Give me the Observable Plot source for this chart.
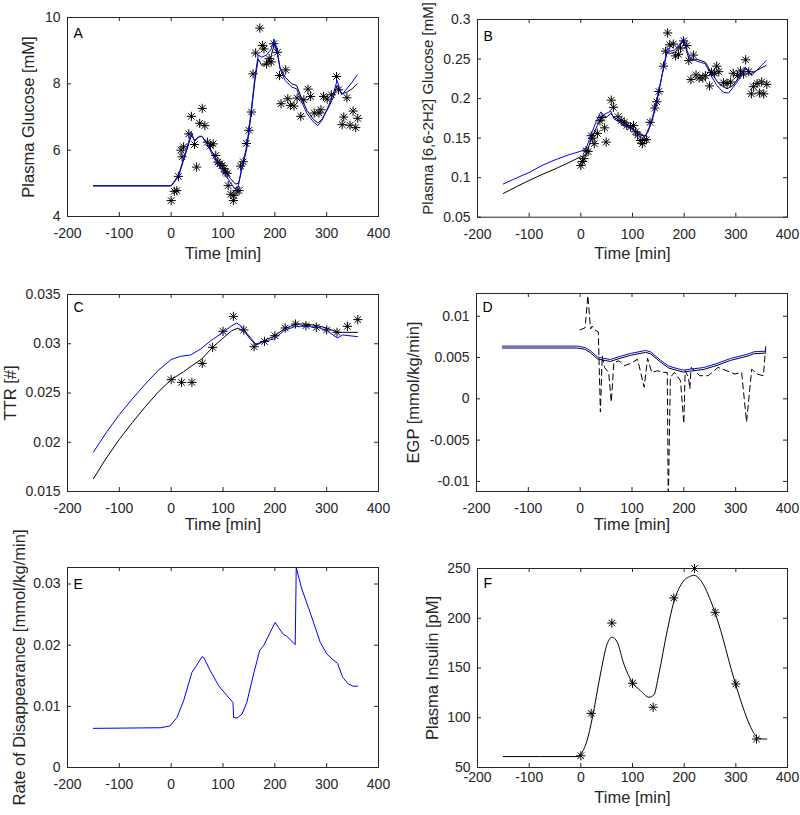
<!DOCTYPE html>
<html><head><meta charset="utf-8">
<script src="https://cdn.jsdelivr.net/npm/d3@7"></script>
<script src="https://cdn.jsdelivr.net/npm/@observablehq/plot@0.6"></script>
<style>
body{margin:0;background:#fff;}
#fig{position:relative;width:800px;height:815px;font-family:"Liberation Sans",Arial,Helvetica,sans-serif;}
</style></head><body><div id="fig"></div>
<script>
// ---------- shared ticks ----------
const xTicks = [-200, -100, 0, 100, 200, 300, 400];

// ---------- Panel A: Plasma glucose ----------
const A_obs_t = [0, 6, 11, 14, 19, 21, 24, 34, 39, 45, 49, 55, 60, 65, 70, 76, 81, 86, 90, 94, 98, 102, 105, 108, 110, 115, 120, 121, 127, 131, 134, 139, 145, 150, 155, 158, 163, 171, 176, 179, 184, 189, 193, 198, 205, 209, 212, 221, 225, 230, 237, 243, 250, 256, 264, 269, 276, 285, 289, 294, 301, 309, 319, 323, 330, 333, 339, 345, 351, 356, 360];
const A_obs_v = [4.48, 4.76, 4.78, 5.21, 6.0, 5.8, 6.1, 6.49, 7.02, 6.17, 5.49, 6.81, 7.26, 6.74, 6.24, 6.14, 6.19, 5.84, 5.64, 5.59, 5.54, 5.44, 5.34, 5.3, 4.93, 4.67, 4.48, 4.63, 4.78, 4.78, 5.52, 5.65, 6.2, 6.6, 7.15, 8.3, 8.93, 9.68, 9.16, 9.05, 8.6, 8.76, 8.66, 9.21, 8.95, 8.25, 7.4, 8.42, 7.55, 7.35, 7.33, 7.57, 7.02, 7.52, 7.84, 7.62, 7.12, 7.12, 7.22, 7.62, 7.54, 7.67, 8.22, 7.82, 6.77, 7.0, 7.58, 6.75, 7.18, 6.68, 6.96];
const A_blue_t = [-150, 0, 14, 27, 39, 45, 54, 59, 69, 85, 101, 114, 123, 129, 136, 146, 154, 162, 168, 175, 184, 193, 199, 205, 210, 220, 233, 242, 252, 262, 275, 283, 291, 304, 313, 320, 329, 339, 349, 359];
const A_blue_v = [4.93, 4.93, 5.24, 5.9, 6.54, 6.26, 6.42, 6.42, 6.19, 5.69, 5.34, 5.03, 4.83, 4.88, 5.44, 6.14, 7.15, 8.25, 8.87, 8.8, 8.87, 9.05, 9.34, 8.95, 8.45, 8.1, 7.9, 7.85, 7.45, 7.1, 6.84, 6.74, 6.9, 7.35, 7.7, 8.1, 7.67, 7.85, 8.05, 8.27];
const A_black_t = [-150, 0, 14, 27, 39, 45, 54, 59, 69, 85, 101, 114, 124, 130, 136, 146, 154, 162, 168, 175, 184, 193, 199, 205, 210, 220, 233, 242, 252, 262, 275, 283, 291, 304, 313, 320, 329, 339, 349, 359];
const A_black_v = [4.92, 4.92, 5.2, 5.85, 6.45, 6.3, 6.4, 6.42, 6.22, 5.78, 5.45, 5.15, 4.98, 5.0, 5.4, 6.05, 7.05, 8.15, 8.75, 8.55, 8.6, 8.85, 9.2, 8.9, 8.5, 8.2, 8.0, 7.95, 7.55, 7.2, 6.92, 6.82, 6.93, 7.3, 7.6, 7.95, 7.7, 7.75, 7.85, 8.0];
const A_yTicks = [4, 6, 8, 10];

// ---------- Panel B: labelled glucose ----------
const B_obs_t = [0, 3, 6, 10, 14, 20, 23, 26, 32, 37, 41, 46, 49, 59, 63, 72, 78, 84, 89, 96, 102, 106, 110, 115, 119, 123, 127, 134, 143, 147, 151, 160, 164, 168, 172, 179, 183, 189, 193, 199, 205, 209, 218, 213, 223, 229, 236, 241, 249, 253, 259, 263, 267, 276, 283, 290, 295, 303, 309, 315, 319, 325, 330, 334, 341, 346, 350, 354, 360];
const B_obs_v = [0.1154, 0.1205, 0.124, 0.134, 0.133, 0.153, 0.150, 0.143, 0.156, 0.172, 0.176, 0.163, 0.145, 0.198, 0.189, 0.177, 0.172, 0.170, 0.166, 0.164, 0.166, 0.158, 0.154, 0.147, 0.143, 0.148, 0.148, 0.170, 0.188, 0.196, 0.209, 0.241, 0.260, 0.283, 0.268, 0.269, 0.254, 0.256, 0.264, 0.273, 0.267, 0.248, 0.255, 0.224, 0.230, 0.226, 0.226, 0.229, 0.216, 0.233, 0.232, 0.241, 0.234, 0.220, 0.219, 0.221, 0.232, 0.229, 0.235, 0.231, 0.249, 0.234, 0.206, 0.215, 0.219, 0.207, 0.221, 0.206, 0.218];
const B_blue_t = [-150, -125, -100, -75, -50, -25, 0, 10, 19, 29, 38.5, 44, 51, 58, 64, 77, 93, 109, 123, 130, 138, 146, 154, 161, 167, 173, 181, 189.5, 199, 205.5, 213, 221.6, 231, 241, 250.5, 263, 276, 286, 295, 305, 311.5, 318, 324, 331, 337, 346.8, 358.5];
const B_blue_v = [0.092, 0.0995, 0.1065, 0.1155, 0.1225, 0.1285, 0.1335, 0.1365, 0.153, 0.170, 0.183, 0.1795, 0.182, 0.184, 0.1745, 0.169, 0.164, 0.1555, 0.1525, 0.1575, 0.1745, 0.1955, 0.219, 0.242, 0.263, 0.26, 0.261, 0.267, 0.2757, 0.261, 0.25, 0.248, 0.246, 0.244, 0.231, 0.2167, 0.208, 0.207, 0.2145, 0.223, 0.231, 0.24, 0.2335, 0.229, 0.2335, 0.24, 0.248];
const B_black_t = [-150, -125, -100, -75, -50, -25, 0, 10, 19, 32, 42, 50, 58, 64, 77, 93, 109, 125, 138, 146, 157.6, 167, 173, 183, 199, 209, 225, 241, 254, 267, 283, 295, 315, 321, 328, 337, 358.5];
const B_black_v = [0.080, 0.0885, 0.0965, 0.104, 0.111, 0.1185, 0.1265, 0.128, 0.147, 0.166, 0.1787, 0.1766, 0.181, 0.1766, 0.171, 0.166, 0.1576, 0.1525, 0.172, 0.193, 0.231, 0.259, 0.257, 0.259, 0.2736, 0.250, 0.2496, 0.246, 0.2314, 0.2188, 0.2124, 0.2167, 0.2357, 0.2378, 0.2314, 0.2344, 0.242];
const B_yTicks = [0.05, 0.1, 0.15, 0.2, 0.25, 0.3];

// ---------- Panel C: TTR ----------
const C_obs_t = [0, 20, 40, 60, 80, 100, 120, 140, 160, 180, 200, 220, 240, 260, 280, 300, 320, 340, 360];
const C_obs_v = [0.02635, 0.02608, 0.02608, 0.0280, 0.02963, 0.03126, 0.03278, 0.0314, 0.0297, 0.03024, 0.03082, 0.0316, 0.0320, 0.03184, 0.03167, 0.0314, 0.03116, 0.03177, 0.03245];
const C_blue_t = [-150, -125, -100, -75, -50, -25, 0, 18, 37.5, 56.7, 76, 95.5, 115, 126.5, 134, 147, 163, 169.6, 182.4, 198.5, 217.7, 240, 260, 282, 301.6, 314, 321, 330.6, 359.6];
const C_blue_v = [0.0190, 0.0210, 0.0228, 0.0244, 0.0259, 0.0273, 0.0284, 0.02872, 0.02886, 0.02946, 0.0303, 0.03099, 0.03177, 0.0321, 0.03184, 0.031, 0.02997, 0.03007, 0.03031, 0.03048, 0.03133, 0.03177, 0.03177, 0.03167, 0.03133, 0.03082, 0.03058, 0.03089, 0.03072];
const C_black_t = [-150, -125, -100, -75, -50, -25, 0, 24, 40, 59, 78.6, 98, 117, 128, 140, 152.6, 164.3, 172, 185, 198.5, 217.7, 240, 260, 282, 301.6, 321, 330.6, 359.6];
const C_black_v = [0.0163, 0.0184, 0.0203, 0.0220, 0.0236, 0.0251, 0.02635, 0.02716, 0.02777, 0.02845, 0.02957, 0.03048, 0.03133, 0.03157, 0.03133, 0.03048, 0.02987, 0.03007, 0.03048, 0.03075, 0.0315, 0.032, 0.032, 0.03184, 0.03157, 0.03116, 0.03116, 0.03116];
const C_yTicks = [0.015, 0.02, 0.025, 0.03, 0.035];

// ---------- Panel D: EGP ----------
const D_blue_t = [-150, -5, 10, 20, 33, 45, 58.5, 75, 97, 126, 135.8, 155, 171, 185, 199, 213, 238.6, 264, 290, 316, 325.6, 335, 358];
const D_blue_v = [0.00638, 0.00638, 0.0062, 0.0058, 0.00508, 0.0049, 0.00476, 0.0051, 0.00549, 0.00585, 0.00569, 0.00468, 0.00395, 0.0037, 0.00347, 0.00359, 0.00379, 0.00428, 0.00488, 0.00529, 0.00545, 0.00569, 0.00577];
const D_black_v = [0.00615, 0.00615, 0.00598, 0.00557, 0.00485, 0.00466, 0.00453, 0.00487, 0.00526, 0.00562, 0.00546, 0.00445, 0.00372, 0.00347, 0.00324, 0.00336, 0.00356, 0.00405, 0.00465, 0.00506, 0.00522, 0.00546, 0.00554];
const D_dash_t = [0, 9.6, 14.8, 20, 23, 29.5, 35, 39, 42.6, 47, 55, 60, 65, 75, 85, 98, 110.6, 123.5, 130, 138, 149.6, 159, 168, 170, 174, 182, 193.5, 200, 202.6, 209, 211.6, 214, 221, 230.6, 247, 266, 282.6, 298.6, 311.5, 321, 331, 340.6, 353.5, 358];
const D_dash_v = [0.00835, 0.0086, 0.0125, 0.00845, 0.0088, 0.0083, 0.0081, -0.0016, 0.0052, 0.0038, 0.0032, -0.0004, 0.0044, 0.0046, 0.0040, 0.0043, 0.0048, 0.0014, 0.0049, 0.0032, 0.0034, 0.0032, 0.0032, -0.0125, 0.0026, 0.0032, 0.0022, -0.003, 0.0034, 0.0026, 0.0012, 0.0038, 0.0034, 0.0028, 0.0028, 0.0038, 0.0034, 0.0030, 0.0032, -0.0028, 0.0036, 0.0030, 0.0028, 0.0063];
const D_yTicks = [-0.01, -0.005, 0, 0.005, 0.01];

// ---------- Panel E: rate of disappearance ----------
const E_t = [-150, -20, -2, 11.2, 24, 40, 46.6, 59.5, 62.7, 75.5, 91.6, 107.7, 119.3, 120.5, 127, 136.6, 146, 159, 170.6, 178.3, 191, 200.7, 207, 216.8, 222, 239.3, 241.3, 252, 268, 287.6, 300.4, 313, 321, 331, 342, 352, 359.6];
const E_v = [0.0064, 0.0065, 0.0068, 0.00818, 0.01091, 0.01555, 0.01637, 0.01811, 0.018, 0.01582, 0.01337, 0.01173, 0.01064, 0.00818, 0.00807, 0.00873, 0.01064, 0.01528, 0.0191, 0.01991, 0.0221, 0.02373, 0.02291, 0.02171, 0.02155, 0.02008, 0.0327, 0.02919, 0.02537, 0.02046, 0.01855, 0.01757, 0.01702, 0.01473, 0.01364, 0.01326, 0.01331];
const E_yTicks = [0, 0.01, 0.02, 0.03];

// ---------- Panel F: plasma insulin ----------
const F_obs_t = [0, 20, 60, 100, 140, 180, 220, 260, 300, 340];
const F_obs_v = [61.8, 104.4, 195.2, 134.7, 110.5, 220.4, 250, 206, 134, 78.6];
const F_fit_t = [-150, -5, 0, 12, 21.8, 38, 51, 60.6, 70.4, 83.3, 99.4, 115.5, 131.7, 141.4, 151, 167.3, 180, 196, 212.5, 219, 232, 251, 270.7, 290, 309.5, 329, 341.8, 354.8, 360];
const F_fit_v = [61, 61, 63.4, 77, 98.7, 144, 174.4, 181, 176, 154, 135.7, 127.3, 120.6, 123, 144, 187.8, 216.4, 235.5, 242.3, 243.3, 238, 218, 187.8, 150.8, 117.2, 90.3, 80.2, 78.6, 78.6];
const F_yTicks = [50, 100, 150, 200, 250];

// ---------- helpers ----------
const AX = "#262626";
const FONT = '"Liberation Sans", Arial, Helvetica, sans-serif';
const rows = (t, v) => t.map((d, i) => ({t: d, v: v[i]}));
const asterisk = {
  draw(ctx, size) {
    const r = Math.sqrt(size / Math.PI);
    const d = r * Math.SQRT1_2;
    ctx.moveTo(-r, 0); ctx.lineTo(r, 0);
    ctx.moveTo(0, -r); ctx.lineTo(0, r);
    ctx.moveTo(-d, -d); ctx.lineTo(d, d);
    ctx.moveTo(-d, d); ctx.lineTo(d, -d);
  }
};
const stars = (t, v) => Plot.dot(rows(t, v), {x: "t", y: "v", symbol: asterisk, r: 4.6, stroke: "#000", fill: "none", strokeWidth: 1});
const line = (t, v, stroke, extra = {}) => Plot.line(rows(t, v), {x: "t", y: "v", stroke, strokeWidth: 1, ...extra});

const fig = document.getElementById("fig");

function panel(p) {
  const [fl, ft, fr, fb] = p.frame;
  const innerW = fr - fl, innerH = fb - ft;
  const TICK = 4;
  const marks = [
    ...p.marks,
    Plot.ruleX(xTicks, {x: d => d, insetTop: innerH - TICK, stroke: AX}),
    Plot.ruleX(xTicks, {x: d => d, insetBottom: innerH - TICK, stroke: AX}),
    Plot.ruleY(p.yTicks, {y: d => d, insetRight: innerW - TICK, stroke: AX}),
    Plot.ruleY(p.yTicks, {y: d => d, insetLeft: innerW - TICK, stroke: AX}),
    Plot.frame({stroke: AX, strokeWidth: 1}),
    Plot.axisX({ticks: xTicks, tickSize: 0, tickPadding: p.xPad, tickFormat: d => String(d), fontSize: 14, fill: AX, label: null}),
    Plot.axisY({ticks: p.yTicks, tickSize: 0, tickPadding: 7, tickFormat: d => String(d), fontSize: 14, fill: AX, label: null}),
    Plot.text([p.letter], {frameAnchor: "top-left", text: d => d, dx: 6, dy: p.letterDy, lineAnchor: "top", textAnchor: "start", fontSize: 14, fill: "#000"}),
    Plot.text([p.yLabel], {frameAnchor: "left", text: d => d, rotate: -90, textAnchor: "middle", lineAnchor: "middle", dx: p.yLabelDx, dy: p.yLabelDy || 0, fontSize: p.yLabelSize || 16.5, fill: AX})
  ];
  if (p.xLabel) marks.push(Plot.text([p.xLabel], {frameAnchor: "bottom", text: d => d, textAnchor: "middle", lineAnchor: "middle", dy: p.xLabelDy, fontSize: 16.5, fill: AX}));
  const chart = Plot.plot({
    width: p.width, height: p.height,
    marginLeft: fl - p.left, marginTop: ft - p.top,
    marginRight: p.left + p.width - fr, marginBottom: p.top + p.height - fb,
    x: {domain: [-200, 400], label: null},
    y: {domain: p.yDomain, label: null},
    style: {position: "absolute", left: p.left + "px", top: p.top + "px", overflow: "visible", background: "transparent", fontFamily: FONT, maxWidth: "none"},
    marks
  });
  fig.appendChild(chart);
}

panel({left: 0, top: 0, width: 400, height: 270, frame: [67, 17, 378, 216], yDomain: [4, 10], yTicks: A_yTicks,
  letter: "A", letterDy: 11, yLabel: "Plasma Glucose [mM]", yLabelDx: -39, xLabel: "Time [min]", xLabelDy: 37, xPad: 12,
  marks: [stars(A_obs_t, A_obs_v), line(A_black_t, A_black_v, "#000"), line(A_blue_t, A_blue_v, "#0000ff")]});

panel({left: 400, top: 0, width: 400, height: 270, frame: [477, 19, 787, 216.7], yDomain: [0.05, 0.3], yTicks: B_yTicks,
  letter: "B", letterDy: 11.5, yLabel: "Plasma [6,6-2H2] Glucose [mM]", yLabelSize: 15, yLabelDx: -49, yLabelDy: -10, xLabel: "Time [min]", xLabelDy: 37, xPad: 12,
  marks: [stars(B_obs_t, B_obs_v), line(B_black_t, B_black_v, "#000"), line(B_blue_t, B_blue_v, "#0000ff")]});

panel({left: 0, top: 270, width: 400, height: 270, frame: [67, 294, 378, 491], yDomain: [0.015, 0.035], yTicks: C_yTicks,
  letter: "C", letterDy: 8, yLabel: "TTR [#]", yLabelDx: -57, xLabel: "Time [min]", xLabelDy: 33, xPad: 12,
  marks: [stars(C_obs_t, C_obs_v), line(C_black_t, C_black_v, "#000"), line(C_blue_t, C_blue_v, "#0000ff")]});

panel({left: 400, top: 270, width: 400, height: 270, frame: [476, 293, 787, 491], yDomain: [-0.01122, 0.01275], yTicks: D_yTicks,
  letter: "D", letterDy: 9, yLabel: "EGP [mmol/kg/min]", yLabelDx: -63, xLabel: "Time [min]", xLabelDy: 33, xPad: 12,
  marks: [line(D_dash_t, D_dash_v, "#000", {strokeDasharray: "6,4", clip: true}), line(D_blue_t, D_black_v, "#000"), line(D_blue_t, D_blue_v, "#0000ff")]});

panel({left: 0, top: 540, width: 400, height: 275, frame: [67, 567, 378, 767], yDomain: [0, 0.0327], yTicks: E_yTicks,
  letter: "E", letterDy: 12, yLabel: "Rate of Disappearance [mmol/kg/min]", yLabelDx: -48, xLabel: null, xPad: 12,
  marks: [line(E_t, E_v, "#0000ff", {clip: true})]});

panel({left: 400, top: 540, width: 400, height: 275, frame: [477, 568, 787, 767], yDomain: [50, 250], yTicks: F_yTicks,
  letter: "F", letterDy: 10, yLabel: "Plasma Insulin [pM]", yLabelDx: -44.5, xLabel: "Time [min]", xLabelDy: 30, xPad: 5,
  marks: [stars(F_obs_t, F_obs_v), line(F_fit_t, F_fit_v, "#000", {curve: "monotone-x"})]});
</script></body></html>
